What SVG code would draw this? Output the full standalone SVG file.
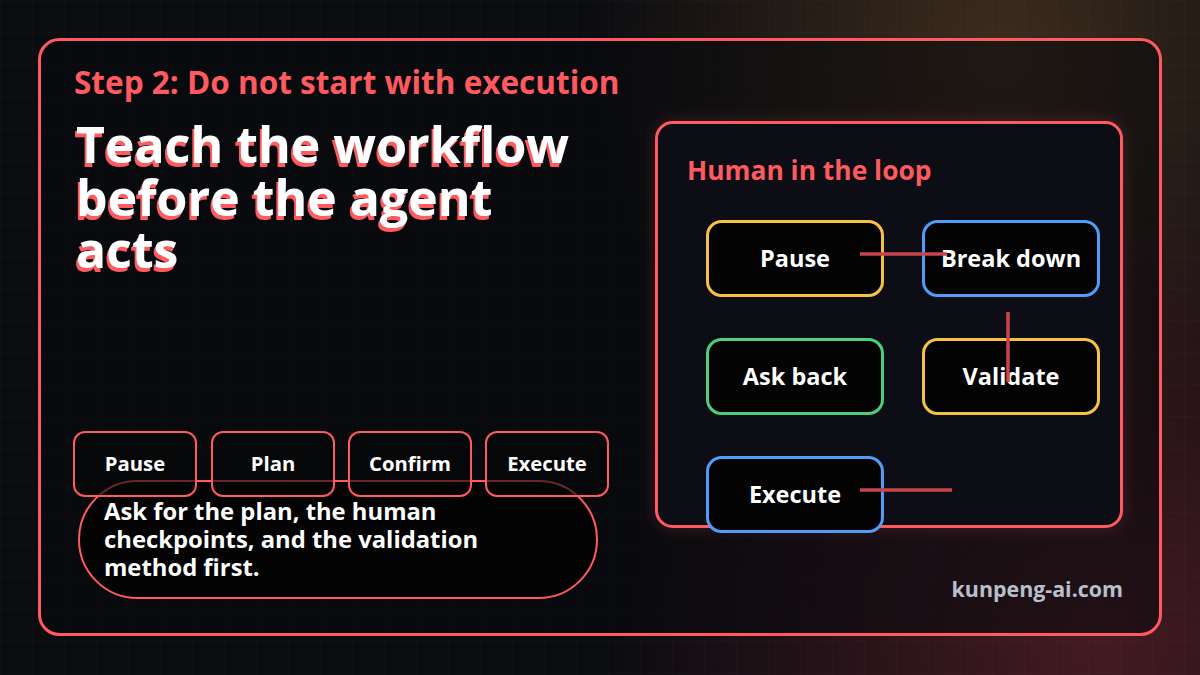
<svg xmlns="http://www.w3.org/2000/svg" width="1200" height="675" viewBox="0 0 1200 675">
<defs>
<pattern id="grid" width="32" height="32" patternUnits="userSpaceOnUse">
<path d="M32 0H0V32" fill="none" stroke="#ffffff" stroke-opacity="0.03" stroke-width="1"/>
</pattern>
<radialGradient id="glowTR" cx="1000" cy="60" r="420" gradientUnits="userSpaceOnUse">
<stop offset="0" stop-color="#4a3420" stop-opacity="0.8"/>
<stop offset="1" stop-color="#4a3420" stop-opacity="0"/>
</radialGradient>
<radialGradient id="glowBR" cx="1100" cy="640" r="500" gradientUnits="userSpaceOnUse">
<stop offset="0" stop-color="#4a1c24" stop-opacity="0.9"/>
<stop offset="1" stop-color="#4a1c24" stop-opacity="0"/>
</radialGradient>
<filter id="shadow" x="-10%" y="-10%" width="120%" height="130%">
<feDropShadow dx="-2" dy="4" stdDeviation="0" flood-color="#ff5a5f"/>
</filter>
<filter id="panelGlow" x="-20%" y="-20%" width="140%" height="140%">
<feDropShadow dx="0" dy="0" stdDeviation="8" flood-color="#ff5a5f" flood-opacity="0.2"/>
</filter>
</defs>
<style>
text{font-family:"Open Sans","Noto Sans","Liberation Sans",sans-serif;font-weight:700}
.red{fill:#ff5a5f}
.white{fill:#ffffff}
.chip{fill:#050505;stroke:#ff5a5f;stroke-width:2}
.node{fill:#030303;stroke-width:3}
.yellow{stroke:#f6c244}
.blue{stroke:#4f9cf9}
.green{stroke:#4ccf7a}
.conn{stroke:#c9444d;stroke-width:3.5;fill:none}
.ntext{font-size:23.5px;fill:#ffffff;text-anchor:middle}
.ctext{font-size:20.3px;fill:#ffffff;text-anchor:middle}
</style>
<rect width="1200" height="675" fill="#0b0c10"/>
<rect width="1200" height="675" fill="url(#glowTR)"/>
<rect width="1200" height="675" fill="url(#glowBR)"/>
<rect width="1200" height="675" fill="url(#grid)"/>

<g id="card">
<rect x="39.5" y="39.5" width="1121" height="595" rx="20" fill="#08090c" fill-opacity="0.55" stroke="#ff5a5f" stroke-width="3"/>
<text x="74" y="94" class="red" font-size="31.5">Step 2: Do not start with execution</text>
<g filter="url(#shadow)" class="white" font-size="50">
<text x="76" y="163">Teach the workflow</text>
<text x="76" y="216">before the agent</text>
<text x="76" y="268">acts</text>
</g>
</g>

<g id="summary">
<rect x="79" y="481" width="518" height="117" rx="58.5" fill="#030303" stroke="#ff5a5f" stroke-width="2"/>
<text x="104" y="520" font-size="23.8" class="white">Ask for the plan, the human</text>
<text x="104" y="548" font-size="23.8" class="white">checkpoints, and the validation</text>
<text x="104" y="576" font-size="23.8" class="white">method first.</text>
</g>
<g id="chip-pause"><rect class="chip" x="74" y="432" width="122" height="64" rx="11" fill-opacity="0.6"/><text class="ctext" x="135" y="471">Pause</text></g>
<g id="chip-plan"><rect class="chip" x="212" y="432" width="122" height="64" rx="11" fill-opacity="0.6"/><text class="ctext" x="273" y="471">Plan</text></g>
<g id="chip-confirm"><rect class="chip" x="349" y="432" width="122" height="64" rx="11" fill-opacity="0.6"/><text class="ctext" x="410" y="471">Confirm</text></g>
<g id="chip-execute"><rect class="chip" x="486" y="432" width="122" height="64" rx="11" fill-opacity="0.6"/><text class="ctext" x="547" y="471">Execute</text></g>

<g id="panel">
<rect x="656.5" y="122.5" width="465" height="404" rx="16" fill="#0b0e14" stroke="#ff5a5f" stroke-width="3" filter="url(#panelGlow)"/>
<text x="687" y="180" class="red" font-size="26.4">Human in the loop</text>
</g>

<g id="n-pause"><rect class="node yellow" x="707.5" y="221.5" width="175" height="74" rx="14"/><text class="ntext" x="795" y="267">Pause</text></g>
<g id="n-breakdown"><rect class="node blue" x="923.5" y="221.5" width="175" height="74" rx="14"/><text class="ntext" x="1011" y="267">Break down</text></g>
<g id="n-askback"><rect class="node green" x="707.5" y="339.5" width="175" height="74" rx="14"/><text class="ntext" x="795" y="385">Ask back</text></g>
<g id="n-validate"><rect class="node yellow" x="923.5" y="339.5" width="175" height="74" rx="14"/><text class="ntext" x="1011" y="385">Validate</text></g>
<g id="n-execute"><rect class="node blue" x="707.5" y="457.5" width="175" height="74" rx="14"/><text class="ntext" x="795" y="503">Execute</text></g>

<g id="connectors">
<line class="conn" x1="860" y1="254" x2="947" y2="254"/>
<line class="conn" x1="1008" y1="312" x2="1008" y2="382"/>
<line class="conn" x1="860" y1="490" x2="952" y2="490"/>
</g>

<text x="1123" y="597" font-size="21.4" fill="#b8c0cc" text-anchor="end">kunpeng-ai.com</text>
</svg>
